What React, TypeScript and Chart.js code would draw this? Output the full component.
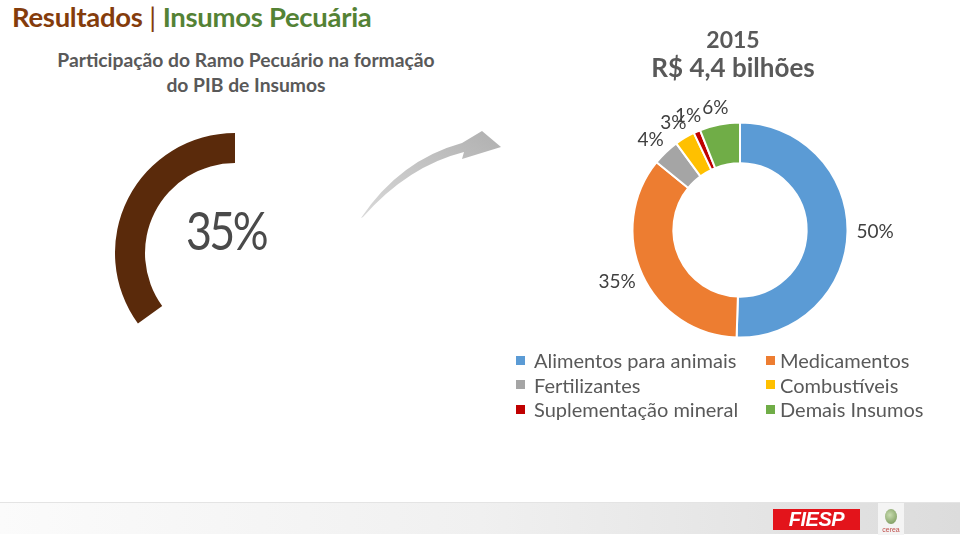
import React, { useEffect, useRef } from "react";
import { Chart, registerables } from "chart.js";

Chart.register(...registerables);

// ---- data ----
const gaugeShare = 35; // % Ramo Pecuário no PIB de Insumos
const categories = [
  "Alimentos para animais",
  "Medicamentos",
  "Fertilizantes",
  "Combustíveis",
  "Suplementação mineral",
  "Demais Insumos",
];
const shares = [50, 35, 4, 3, 1, 6];
const colors = ["#5B9BD5", "#ED7D31", "#A5A5A5", "#FFC000", "#C00000", "#70AD47"];
const yearLabel = "2015";
const totalLabel = "R$ 4,4 bilhões";

const FONT = "Lato, 'Open Sans', sans-serif";

const outsideLabels = {
  id: "outsideLabels",
  afterDatasetsDraw(chart: any) {
    const ctx = chart.ctx;
    const meta = chart.getDatasetMeta(0);
    ctx.save();
    ctx.font = `400 19px ${FONT}`;
    ctx.fillStyle = "#404040";
    ctx.textAlign = "center";
    ctx.textBaseline = "middle";
    meta.data.forEach((arc: any, i: number) => {
      const p = arc.getProps(["x", "y", "startAngle", "endAngle", "outerRadius"], true);
      const mid = (p.startAngle + p.endAngle) / 2;
      const dx = Math.cos(mid);
      const dy = Math.sin(mid);
      const txt = shares[i] + "%";
      const w = ctx.measureText(txt).width;
      const h = 16;
      const x = p.x + dx * (p.outerRadius + 9) + (dx * w) / 2;
      const y = p.y + dy * (p.outerRadius + 9) + (dy * h) / 2;
      ctx.fillText(txt, x, y);
    });
    ctx.restore();
  },
};

function Gauge() {
  const ref = useRef<HTMLCanvasElement>(null);
  useEffect(() => {
    const chart = new Chart(ref.current!, {
      type: "doughnut",
      data: {
        labels: ["Pecuária", ""],
        datasets: [
          {
            data: [gaugeShare, 100 - gaugeShare],
            backgroundColor: ["#5A2A0B", "rgba(0,0,0,0)"],
            borderWidth: 0,
          },
        ],
      },
      options: {
        animation: false,
        responsive: false,
        rotation: -(gaugeShare / 100) * 360,
        cutout: "75%",
        plugins: { legend: { display: false }, tooltip: { enabled: false } },
      },
    });
    return () => chart.destroy();
  }, []);
  return (
    <canvas
      ref={ref}
      width={240}
      height={240}
      style={{ position: "absolute", left: 115, top: 133, width: 240, height: 240 }}
    />
  );
}

function Donut() {
  const ref = useRef<HTMLCanvasElement>(null);
  useEffect(() => {
    const chart = new Chart(ref.current!, {
      type: "doughnut",
      data: {
        labels: categories,
        datasets: [
          {
            data: shares,
            backgroundColor: colors,
            borderColor: "#ffffff",
            borderWidth: 2,
          },
        ],
      },
      options: {
        animation: false,
        responsive: false,
        cutout: "62%",
        layout: { padding: { left: 71.5, right: 71.5, top: 41.5, bottom: 41.5 } },
        plugins: { legend: { display: false }, tooltip: { enabled: false } },
      },
      plugins: [outsideLabels],
    });
    return () => chart.destroy();
  }, []);
  return (
    <canvas
      ref={ref}
      width={360}
      height={300}
      style={{ position: "absolute", left: 560, top: 80, width: 360, height: 300 }}
    />
  );
}

export default function App() {
  return (
    <div
      style={{
        position: "fixed",
        left: 0,
        top: 0,
        width: 960,
        height: 539,
        background: "#ffffff",
        overflow: "hidden",
        fontFamily: FONT,
      }}
    >
      {/* Title */}
      <div
        style={{
          position: "absolute",
          left: 12,
          top: 0,
          fontSize: 27.5,
          fontWeight: 700,
          whiteSpace: "nowrap",
          letterSpacing: -0.3,
        }}
      >
        <span style={{ color: "#843C0C" }}>Resultados</span>
        <span style={{ color: "#843C0C", fontWeight: 400 }}> | </span>
        <span style={{ color: "#548235" }}>Insumos Pecuária</span>
      </div>

      {/* Subtitle */}
      <div
        style={{
          position: "absolute",
          left: 36,
          top: 47,
          width: 420,
          textAlign: "center",
          fontSize: 19.3,
          fontWeight: 700,
          color: "#595959",
          lineHeight: "25px",
        }}
      >
        Participação do Ramo Pecuário na formação
        <br />
        do PIB de Insumos
      </div>

      <Gauge />
      <div
        style={{
          position: "absolute",
          left: 166,
          top: 200,
          width: 120,
          textAlign: "center",
          fontSize: 52,
          color: "#4a4a4a",
          letterSpacing: -3,
          lineHeight: "60px",
          transform: "scaleX(0.86)",
        }}
      >
        {gaugeShare}%
      </div>

      {/* Arrow */}
      <svg
        width={960}
        height={539}
        style={{ position: "absolute", left: 0, top: 0, pointerEvents: "none" }}
      >
        <defs>
          <linearGradient id="arr" x1="0" y1="1" x2="1" y2="0">
            <stop offset="0" stopColor="#d9d9d9" />
            <stop offset="1" stopColor="#b0b0b0" />
          </linearGradient>
        </defs>
        <path
          d="M 361 218 Q 400 160 462 143 L 482 131 L 501 147 L 462 159 L 464 152 Q 408 166 363 217 Z"
          fill="url(#arr)"
        />
      </svg>

      {/* Right header */}
      <div
        style={{
          position: "absolute",
          left: 633,
          top: 25,
          width: 200,
          textAlign: "center",
          color: "#595959",
          fontWeight: 700,
          fontSize: 23,
          lineHeight: "28px",
        }}
      >
        {yearLabel}
        <br />
        <span style={{ fontSize: 26 }}>{totalLabel}</span>
      </div>

      <Donut />

      {/* Legend */}
      {categories.map((c, i) => {
        const col = i % 2;
        const row = Math.floor(i / 2);
        const x = col === 0 ? 516 : 766;
        const y = 360 + row * 24.5;
        return (
          <div
            key={c}
            style={{
              position: "absolute",
              left: x,
              top: y - 12,
              height: 24,
              display: "flex",
              alignItems: "center",
              whiteSpace: "nowrap",
              fontSize: 20,
              color: "#595959",
            }}
          >
            <span
              style={{
                display: "inline-block",
                width: 9,
                height: 9,
                background: colors[i],
                marginRight: col === 0 ? 9 : 5,
              }}
            />
            {c}
          </div>
        );
      })}

      {/* Footer */}
      <div
        style={{
          position: "absolute",
          left: 0,
          top: 502,
          width: 960,
          height: 31,
          background: "linear-gradient(90deg, #fbfbfb 0%, #f0f0f0 50%, #dcdcdc 100%)",
          borderTop: "1px solid #e4e4e4",
        }}
      />
      <div
        style={{
          position: "absolute",
          left: 773,
          top: 509,
          width: 87,
          height: 21,
          background: "#E3141B",
          color: "#ffffff",
          fontFamily: "'Liberation Sans', Arial, sans-serif",
          fontWeight: 700,
          fontStyle: "italic",
          fontSize: 20,
          lineHeight: "21px",
          textAlign: "center",
          letterSpacing: -0.5,
        }}
      >
        FIESP
      </div>
      <div
        style={{
          position: "absolute",
          left: 878,
          top: 503,
          width: 26,
          height: 32,
          background: "#f4f4f4",
        }}
      >
        <div
          style={{
            position: "absolute",
            left: 7,
            top: 6,
            width: 12,
            height: 15,
            borderRadius: "50%",
            background: "radial-gradient(circle at 40% 40%, #c8dcb0, #6f8f50)",
          }}
        />
        <div
          style={{
            position: "absolute",
            left: 0,
            top: 23,
            width: 26,
            textAlign: "center",
            fontSize: 7,
            color: "#c0504d",
            fontFamily: "'Liberation Sans', sans-serif",
          }}
        >
          cerea
        </div>
      </div>
    </div>
  );
}
